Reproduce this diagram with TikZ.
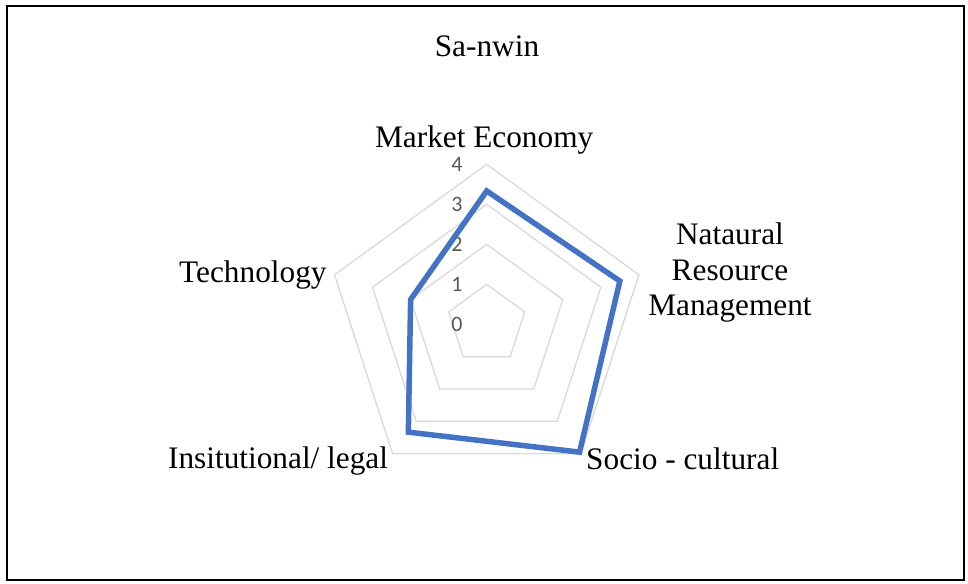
\documentclass[tikz,border=0pt]{standalone}
\usepackage{fontspec}
\setmainfont{Liberation Serif}
\newfontfamily\tickfont{Carlito}
\usetikzlibrary{positioning}
\definecolor{serieblue}{HTML}{4472C4}
\definecolor{gridgray}{HTML}{D9D9D9}
\definecolor{tickgray}{HTML}{595959}
\newcommand{\ring}[1]{(90:#1) -- (18:#1) -- (-54:#1) -- (-126:#1) -- (162:#1) -- cycle}

\begin{document}
\begin{tikzpicture}[
      x=1pt, y=1pt,
      frame/.style={draw=black, line width=2pt},
      grid/.style={draw=gridgray, line width=1.3pt},
      series/.style={draw=serieblue, line width=5.5pt, line join=miter},
      cat/.style={font=\fontsize{31.3}{35.5}\selectfont, inner sep=0pt},
      tick/.style={font=\tickfont\fontsize{22}{24}\selectfont, text=tickgray, inner sep=0pt, anchor=east}
      ]
      \useasboundingbox (-486.7,-258.7) rectangle (481.3,324.3);
      \draw[frame] (-479.7,-255.7) rectangle (477.3,318.3);
      % rings of the radar
      \foreach \r in {40,80,120,160}
        \draw[grid] \ring{\r};
      \foreach \a/\n in {90/top, 18/right, -54/lowright, -126/lowleft, 162/left}
        \coordinate (o-\n) at (\a:160);
      \foreach \v in {0,...,4}
        \node[tick] (t\v) at (-24,40*\v) {\v};
      % the series
      \coordinate (p1) at (90:133.3);
      \coordinate (p2) at (18:140);
      \coordinate (p3) at (-54:158);
      \coordinate (p4) at (-126:133.3);
      \coordinate (p5) at (162:80);
      \draw[series] (p1) -- (p2) -- (p3) -- (p4) -- (p5) -- cycle;
      % labels
      \node[cat, anchor=base] (title) at (0.3,267.6) {Sa-nwin};
      \node[cat, anchor=base] (market) at ([shift={(-2.5,17)}]o-top) {Market Economy};
      \node[cat, anchor=base, align=center] (natural) at ([shift={(91.1,-41.1)}]o-right) {Nataural\\Resource\\Management};
      \node[cat, anchor=base west] (socio) at ([shift={(5.3,-15.6)}]o-lowright) {Socio - cultural};
      \node[cat, anchor=base east] (legal) at ([shift={(-4.4,-14.6)}]o-lowleft) {Insitutional/ legal};
      \node[cat, anchor=base east] (tech) at ([shift={(-7.8,-7.8)}]o-left) {Technology};
    \end{tikzpicture}
\end{document}
